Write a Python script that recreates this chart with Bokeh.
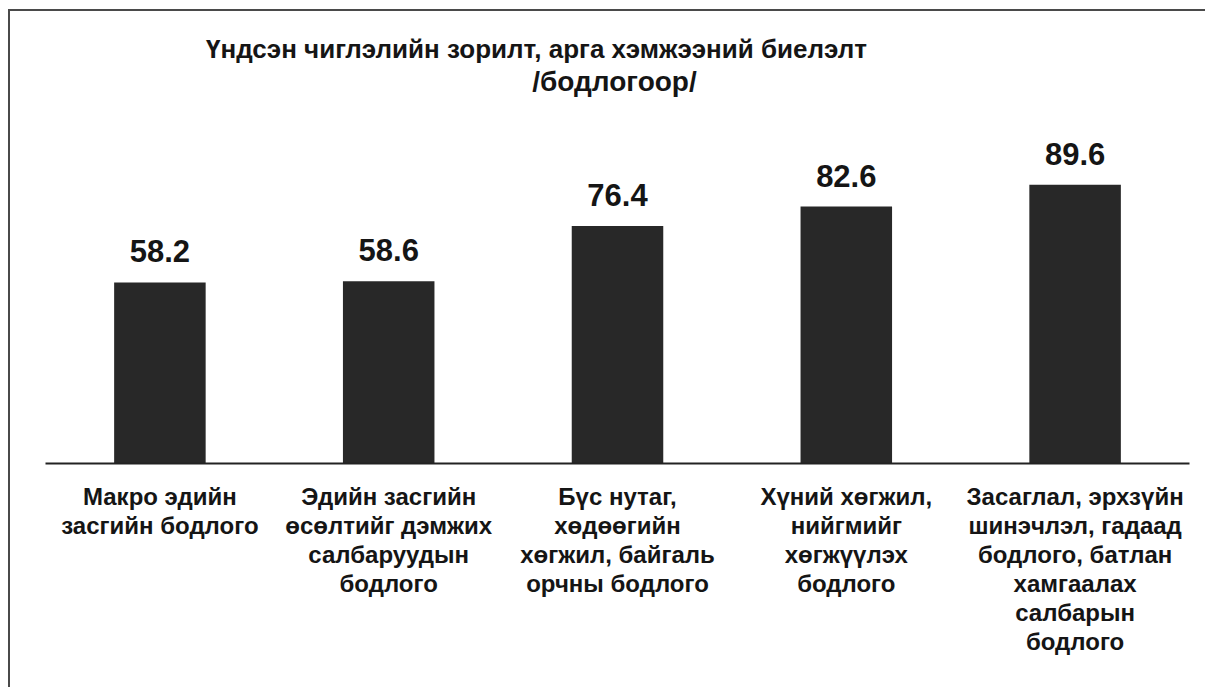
from bokeh.plotting import figure
from bokeh.layouts import column
from bokeh.models import FactorRange, Range1d, ColumnDataSource
from bokeh.embed import file_html
from bokeh.resources import INLINE
from bokeh.core.properties import value

# ---- data ----
categories = [
    "Макро эдийн\nзасгийн бодлого",
    "Эдийн засгийн\nөсөлтийг дэмжих\nсалбаруудын\nбодлого",
    "Бүс нутаг,\nхөдөөгийн\nхөгжил, байгаль\nорчны бодлого",
    "Хүний хөгжил,\nнийгмийг\nхөгжүүлэх\nбодлого",
    "Засаглал, эрхзүйн\nшинэчлэл, гадаад\nбодлого, батлан\nхамгаалах\nсалбарын\nбодлого",
]
values = [58.2, 58.6, 76.4, 82.6, 89.6]
value_labels = ["58.2", "58.6", "76.4", "82.6", "89.6"]
title_lines = ["Үндсэн чиглэлийн зорилт, арга хэмжээний биелэлт", "/бодлогоор/"]

# ---- layout ----
W, H = 1195, 676
top_b, bot_b = 10, 224
px_per_unit = 3.11
ymax = (H - top_b - bot_b) / px_per_unit

FONT = "Liberation Sans"
INK = "#151515"

p = figure(
    x_range=FactorRange(*categories),
    y_range=Range1d(0, ymax),
    width=W, height=H,
    min_border_left=35, min_border_right=16,
    min_border_top=top_b, min_border_bottom=bot_b,
    output_backend="svg", toolbar_location=None,
)
p.title.visible = False
p.outline_line_color = None
p.xgrid.grid_line_color = None
p.ygrid.grid_line_color = None
p.yaxis.visible = False
p.background_fill_color = "white"
p.border_fill_color = "white"

ax = p.xaxis[0]
ax.axis_line_width = 2
ax.axis_line_color = "#222222"
ax.major_tick_line_color = None
ax.minor_tick_line_color = None
ax.major_label_standoff = 13
ax.major_label_text_font = FONT
ax.major_label_text_font_style = "bold"
ax.major_label_text_font_size = "24px"
ax.major_label_text_color = INK
ax.major_label_text_line_height = 1.08

src = ColumnDataSource(dict(cat=categories, val=values, lbl=value_labels))
p.vbar(x="cat", top="val", width=0.4, source=src, fill_color="#282828", line_color=None)
p.text(x="cat", y="val", text="lbl", source=src, text_align="center",
       text_baseline="middle", y_offset=-31,
       text_font=value(FONT), text_font_style="bold", text_font_size="31px", text_color=INK)

# title lines
p.text(x=[categories[2]], y=[ymax], text=[title_lines[0]], x_offset=-81, y_offset=27,
       text_align="center", text_baseline="middle",
       text_font=value(FONT), text_font_style="bold", text_font_size="26px", text_color=INK)
p.text(x=[categories[2]], y=[ymax], text=[title_lines[1]], x_offset=-3, y_offset=60,
       text_align="center", text_baseline="middle",
       text_font=value(FONT), text_font_style="bold", text_font_size="28px", text_color=INK)

layout = column(p, styles={"margin-left": "8px", "margin-top": "9px",
                           "border-left": "2px solid #4a4a4a",
                           "border-top": "2px solid #4a4a4a"})

open("out.html", "w").write(file_html(layout, INLINE))
